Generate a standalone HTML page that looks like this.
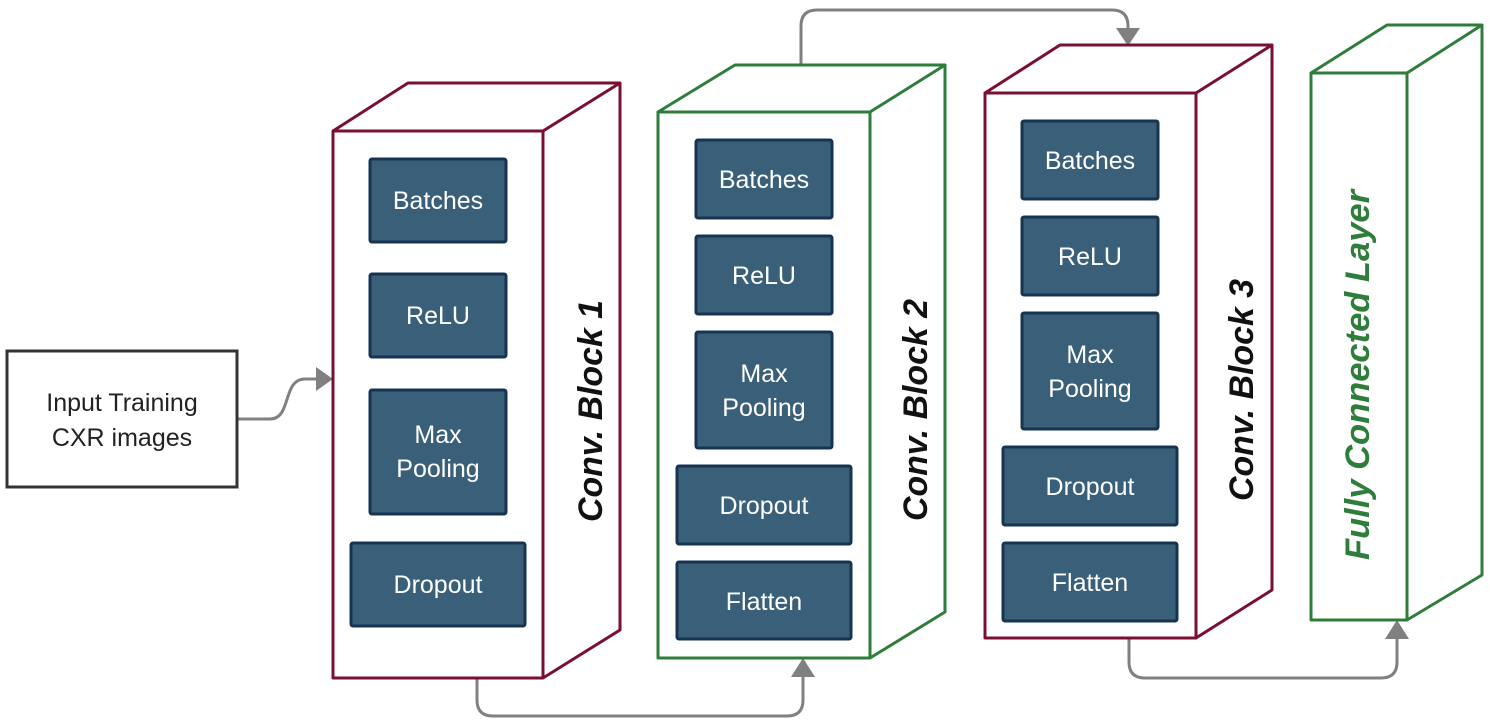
<!DOCTYPE html>
<html><head><meta charset="utf-8"><style>
html,body{margin:0;padding:0;background:#fff;}
svg{display:block;}
.bx{fill:#3a6079;stroke:#163450;stroke-width:3;}
.bt{font-family:"Liberation Sans",sans-serif;font-size:25px;fill:#fff;text-anchor:middle;}
.lb{font-family:"Liberation Sans",sans-serif;font-size:34px;font-style:italic;font-weight:bold;text-anchor:middle;}
.cn{fill:none;stroke:#808080;stroke-width:3;}
</style></head><body>
<svg width="1490" height="723" viewBox="0 0 1490 723" xmlns="http://www.w3.org/2000/svg">
<path class="cn" d="M237,419 L270,419 C292,419 282,379 305,379 L318,379"/>
<polygon points="333,379 316,367 316,391" fill="#808080"/>
<path class="cn" d="M477,678 L477,700 Q477,716 493,716 L787,716 Q803,716 803,700 L803,676"/>
<polygon points="803,658 791,677 815,677" fill="#808080"/>
<path class="cn" d="M801,65 L801,26 Q801,10 817,10 L1112,10 Q1128,10 1128,26 L1128,30"/>
<polygon points="1128,46 1116,28 1140,28" fill="#808080"/>
<path class="cn" d="M1129,638 L1129,662 Q1129,678 1145,678 L1381,678 Q1397,678 1397,662 L1397,638"/>
<polygon points="1397,620 1385,639 1409,639" fill="#808080"/>
<rect x="7" y="351" width="230" height="136" fill="#fff" stroke="#333" stroke-width="3"/>
<text x="122" y="411" font-family="Liberation Sans,sans-serif" font-size="25" fill="#222" text-anchor="middle">Input Training</text>
<text x="122" y="446" font-family="Liberation Sans,sans-serif" font-size="25" fill="#222" text-anchor="middle">CXR images</text>
<g fill="none" stroke="#7a1030" stroke-width="3" stroke-linejoin="round">
<rect x="333" y="131" width="210" height="547"/>
<path d="M333,131 L408,83 L620,83 L543,131 M620,83 L620,630 L543,678"/>
</g>
<rect class="bx" x="370" y="159" width="136" height="83" rx="2"/><text class="bt" x="438" y="209">Batches</text>
<rect class="bx" x="370" y="274" width="136" height="83" rx="2"/><text class="bt" x="438" y="324">ReLU</text>
<rect class="bx" x="370" y="390" width="136" height="124" rx="2"/><text class="bt" x="438" y="443">Max</text><text class="bt" x="438" y="477">Pooling</text>
<rect class="bx" x="351" y="543" width="174" height="83" rx="2"/><text class="bt" x="438" y="593">Dropout</text>
<text class="lb" transform="translate(602,411) rotate(-90)" fill="#111" textLength="222" lengthAdjust="spacingAndGlyphs">Conv. Block 1</text>
<g fill="none" stroke="#2e7d3a" stroke-width="3" stroke-linejoin="round">
<rect x="658" y="112" width="212" height="546"/>
<path d="M658,112 L735,65 L945,65 L870,112 M945,65 L945,612 L870,658"/>
</g>
<rect class="bx" x="696" y="140" width="136" height="78" rx="2"/><text class="bt" x="764" y="188">Batches</text>
<rect class="bx" x="696" y="236" width="136" height="78" rx="2"/><text class="bt" x="764" y="284">ReLU</text>
<rect class="bx" x="696" y="332" width="136" height="116" rx="2"/><text class="bt" x="764" y="382">Max</text><text class="bt" x="764" y="416">Pooling</text>
<rect class="bx" x="677" y="466" width="174" height="78" rx="2"/><text class="bt" x="764" y="514">Dropout</text>
<rect class="bx" x="677" y="562" width="174" height="77" rx="2"/><text class="bt" x="764" y="610">Flatten</text>
<text class="lb" transform="translate(927,410) rotate(-90)" fill="#111" textLength="222" lengthAdjust="spacingAndGlyphs">Conv. Block 2</text>
<g fill="none" stroke="#7a1030" stroke-width="3" stroke-linejoin="round">
<rect x="985" y="93" width="211" height="545"/>
<path d="M985,93 L1060,45 L1272,45 L1196,93 M1272,45 L1272,590 L1196,638"/>
</g>
<rect class="bx" x="1022" y="121" width="136" height="78" rx="2"/><text class="bt" x="1090" y="169">Batches</text>
<rect class="bx" x="1022" y="217" width="136" height="78" rx="2"/><text class="bt" x="1090" y="265">ReLU</text>
<rect class="bx" x="1022" y="313" width="136" height="116" rx="2"/><text class="bt" x="1090" y="363">Max</text><text class="bt" x="1090" y="397">Pooling</text>
<rect class="bx" x="1003" y="447" width="174" height="78" rx="2"/><text class="bt" x="1090" y="495">Dropout</text>
<rect class="bx" x="1003" y="543" width="174" height="78" rx="2"/><text class="bt" x="1090" y="591">Flatten</text>
<text class="lb" transform="translate(1253,390) rotate(-90)" fill="#111" textLength="222" lengthAdjust="spacingAndGlyphs">Conv. Block 3</text>
<g fill="none" stroke="#2e7d3a" stroke-width="3" stroke-linejoin="round">
<rect x="1311" y="73" width="96" height="547"/>
<path d="M1311,73 L1387,25 L1482,25 L1407,73 M1482,25 L1482,575 L1407,620"/>
</g>
<text class="lb" transform="translate(1369,375) rotate(-90)" fill="#2e7d3a" textLength="370" lengthAdjust="spacingAndGlyphs">Fully Connected Layer</text>
</svg>
</body></html>
